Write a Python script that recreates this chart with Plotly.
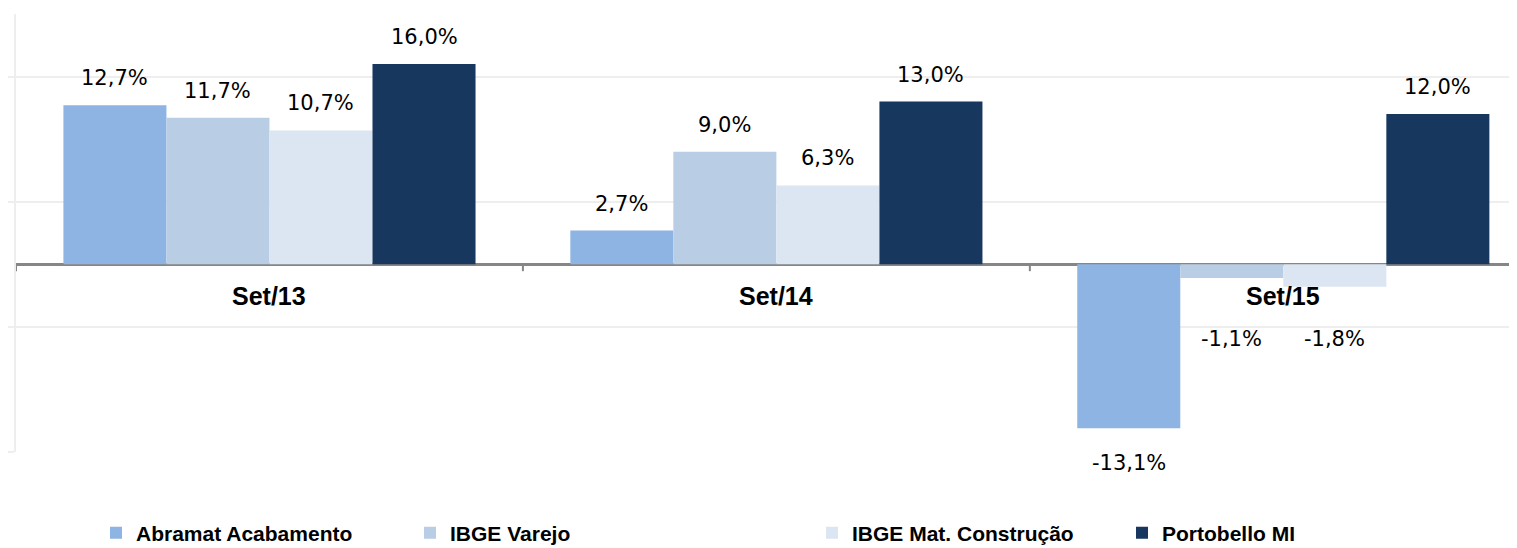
import plotly.graph_objects as go

# Data (% growth)
categories = ['Set/13', 'Set/14', 'Set/15']
series_names = ['Abramat Acabamento', 'IBGE Varejo', 'IBGE Mat. Construção', 'Portobello MI']
abramat = [12.7, 2.7, -13.1]
ibge_varejo = [11.7, 9.0, -1.1]
ibge_mat = [10.7, 6.3, -1.8]
portobello = [16.0, 13.0, 12.0]

series_values = [abramat, ibge_varejo, ibge_mat, portobello]
colors = ['#8EB4E3', '#B9CDE5', '#DCE6F2', '#17375E']

# pixel shift of each data label from the bar end (style only)
label_shift = [
    [27, 27, -35],
    [27, 27, -61],
    [27, 27, -52],
    [27, 27, 27],
]

# legend text start positions (page px) in the reference
legend_text_x = [136, 450, 852, 1162]

# the html body has an 8px margin, so the figure is drawn 8px in from the page corner
OFF = 8
W, H = 1517 - OFF, 548 - OFF
ML, MR, MT, MB = 16 - OFF, 0, 14 - OFF, 96
bargap = 0.187
n_series = len(series_names)
bar_w = (1 - bargap) / n_series

x_idx = list(range(len(categories)))

fig = go.Figure()
for i, (name, vals, col) in enumerate(zip(series_names, series_values, colors)):
    fig.add_trace(go.Bar(
        x=x_idx, y=vals, name='<b>%s</b>' % name,
        marker=dict(color=col, line=dict(width=0)),
        legend='legend' if i == 0 else 'legend%d' % (i + 1),
        hoverinfo='skip',
    ))

annotations = []
# data labels
for i, vals in enumerate(series_values):
    offset = (i - (n_series - 1) / 2) * bar_w
    for j, v in enumerate(vals):
        annotations.append(dict(
            x=x_idx[j] + offset, y=v, xref='x', yref='y',
            text=('%.1f%%' % v).replace('.', ','),
            showarrow=False, xanchor='center', yanchor='middle',
            yshift=label_shift[i][j],
            font=dict(family='DejaVu Sans', size=21, color='#000000'),
        ))
# category labels sitting under the zero line
for j, c in enumerate(categories):
    annotations.append(dict(
        x=x_idx[j], y=0, xref='x', yref='y', text='<b>%s</b>' % c,
        showarrow=False, xanchor='center', yanchor='middle', yshift=-32,
        font=dict(family='Liberation Sans', size=25, color='#000000'),
    ))

# small tick marks on the zero line at category boundaries
shapes = []
for j in x_idx:
    shapes.append(dict(type='line', xref='x', yref='y',
                       x0=j - 0.5, x1=j - 0.5, y0=0, y1=-0.55,
                       line=dict(color='#868686', width=2)))

plot_w = W - ML - MR
legends = {}
for i, tx in enumerate(legend_text_x):
    key = 'legend' if i == 0 else 'legend%d' % (i + 1)
    legends[key] = dict(
        x=(tx - 40 - OFF - ML) / plot_w, y=-0.185, xanchor='left', yanchor='middle',
        orientation='h', bgcolor='rgba(0,0,0,0)',
        font=dict(family='Liberation Sans', size=21, color='#000000'),
    )

fig.update_layout(
    width=W, height=H,
    margin=dict(l=ML, r=MR, t=MT, b=MB, pad=0, autoexpand=False),
    paper_bgcolor='white', plot_bgcolor='white',
    barmode='group', bargap=bargap, bargroupgap=0,
    showlegend=True,
    annotations=annotations,
    shapes=shapes,
    xaxis=dict(range=[-0.5, 2.461], showticklabels=False, showgrid=False,
               zeroline=False, showline=False, ticks=''),
    yaxis=dict(range=[-15, 20], tickvals=[-15, -5, 5, 15], showticklabels=False,
               showgrid=True, gridcolor='#EEEEEE', gridwidth=2,
               zeroline=True, zerolinecolor='#868686', zerolinewidth=3,
               showline=True, linecolor='#EEEEEE', linewidth=2,
               ticks='outside', ticklen=7, tickcolor='#EEEEEE', tickwidth=2),
    **legends,
)

fig.write_html('out.html')
